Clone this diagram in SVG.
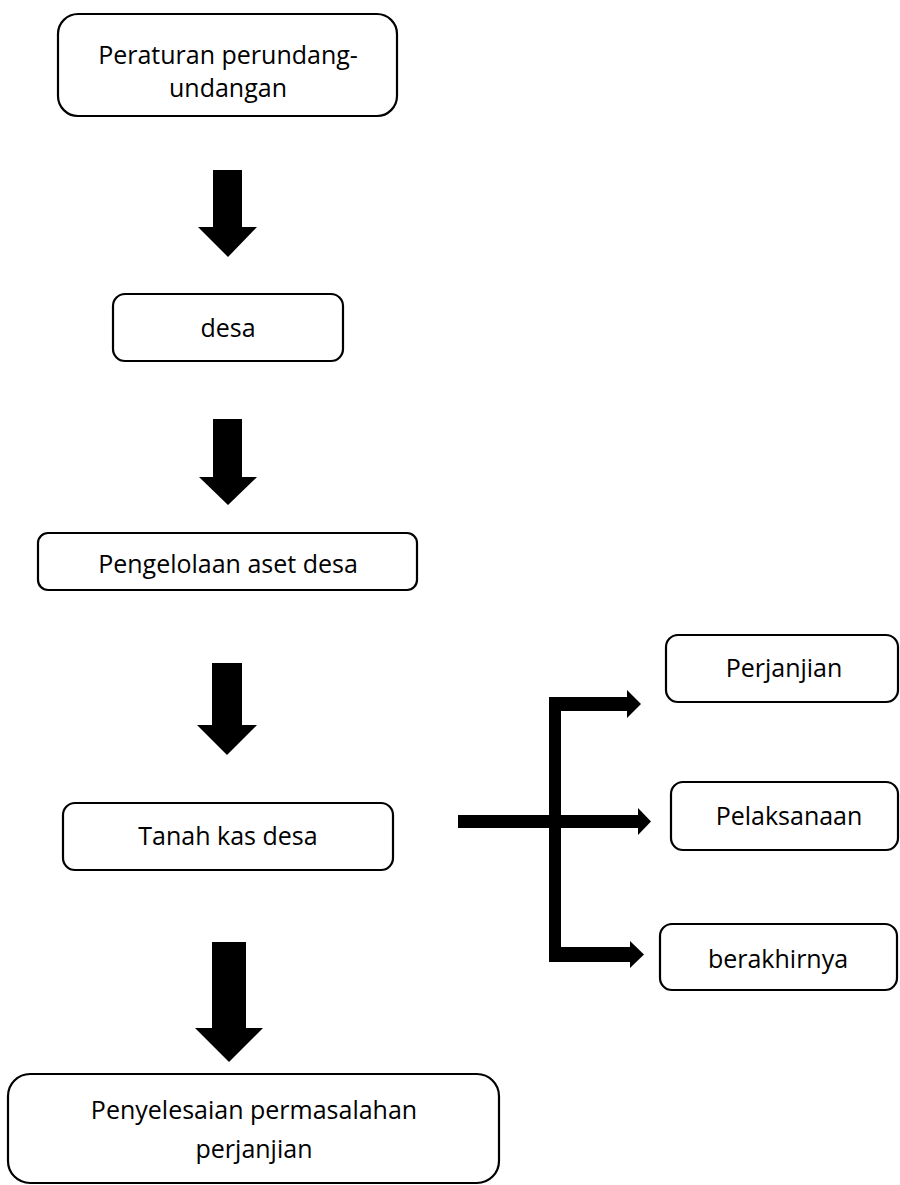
<svg xmlns="http://www.w3.org/2000/svg" width="900" height="1185" viewBox="0 0 900 1185">
<style>
.box{fill:#fff;stroke:#000;stroke-width:2.2}
.t{font-family:"Open Sans","Noto Sans",sans-serif;font-size:25px;fill:#000;text-anchor:middle}
.arr{fill:#000;stroke:none}
</style>
<rect width="900" height="1185" fill="#fff"/>
<g id="n1"><rect class="box" x="58" y="14" width="339" height="102" rx="20"/><text class="t" x="228" y="64">Peraturan perundang-</text><text class="t" x="228" y="97">undangan</text></g>
<g id="n2"><rect class="box" x="113" y="294" width="230" height="67" rx="12"/><text class="t" x="228" y="337">desa</text></g>
<g id="n3"><rect class="box" x="38" y="533" width="379" height="57" rx="10"/><text class="t" x="228" y="573">Pengelolaan aset desa</text></g>
<g id="n4"><rect class="box" x="63" y="803" width="330" height="67" rx="12"/><text class="t" x="228" y="845">Tanah kas desa</text></g>
<g id="n5"><rect class="box" x="666" y="635" width="232" height="67" rx="12"/><text class="t" x="784" y="677">Perjanjian</text></g>
<g id="n6"><rect class="box" x="671" y="782" width="227" height="68" rx="12"/><text class="t" x="789" y="825">Pelaksanaan</text></g>
<g id="n7"><rect class="box" x="660" y="924" width="237" height="66" rx="12"/><text class="t" x="778" y="968">berakhirnya</text></g>
<g id="n8"><rect class="box" x="8" y="1074" width="491" height="109" rx="22"/><text class="t" x="254" y="1119">Penyelesaian permasalahan</text><text class="t" x="254" y="1158">perjanjian</text></g>
<g id="connectors">
<polygon class="arr" points="213,170 242,170 242,227 257,227 228,257 198,227 213,227"/>
<polygon class="arr" points="213,419 242,419 242,477 257,477 228,505 199,477 213,477"/>
<polygon class="arr" points="212,663 242,663 242,725 257,725 227,755 197,725 212,725"/>
<polygon class="arr" points="212,942 246,942 246,1028 263,1028 229,1062 195,1028 212,1028"/>
<rect class="arr" x="458" y="815" width="181" height="13"/>
<polygon class="arr" points="638,808 651,821.5 638,835"/>
<rect class="arr" x="549" y="697" width="12" height="265"/>
<rect class="arr" x="549" y="697" width="79" height="14"/>
<polygon class="arr" points="627,690 641,704 627,718"/>
<rect class="arr" x="549" y="947" width="82" height="15"/>
<polygon class="arr" points="630,941 644,954.5 630,968"/>
</g>
</svg>
